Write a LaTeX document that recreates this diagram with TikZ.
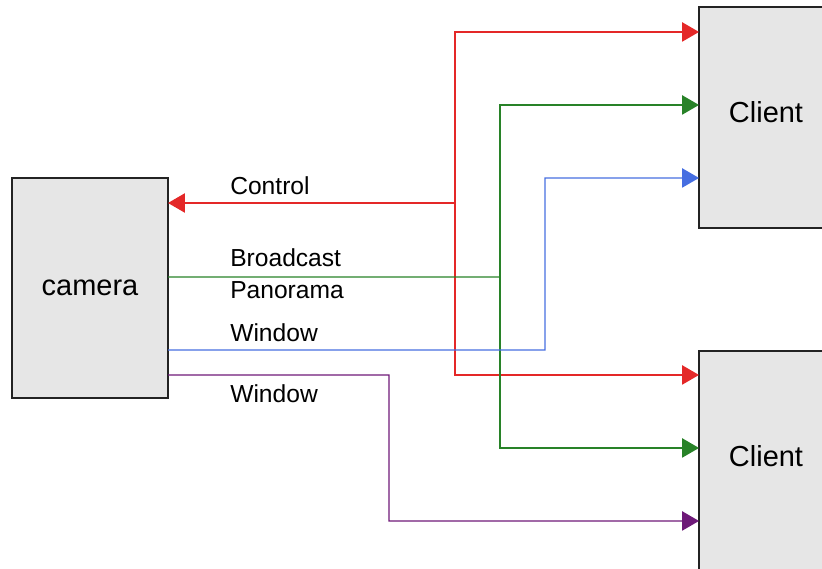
\documentclass[tikz,border=0pt]{standalone}
\usepackage{fontspec}
\setmainfont{Liberation Sans}
\usetikzlibrary{arrows.meta,calc}

\definecolor{boxgrey}{RGB}{230,230,230}
\definecolor{boxline}{RGB}{35,35,35}
\definecolor{ctrlred}{RGB}{228,40,40}
\definecolor{bcgreen}{RGB}{40,130,40}
\definecolor{winblue}{RGB}{70,110,225}
\definecolor{winpurple}{RGB}{110,25,120}

\begin{document}
\begin{tikzpicture}[x=0.025cm,y=-0.025cm,
    device/.style={draw=boxline,fill=boxgrey,line width=1.1pt,
      font=\fontsize{20.6}{24}\selectfont,inner sep=0pt,outer sep=0pt},
    client/.style={device,minimum width=3.35cm,minimum height=5.525cm,
      text depth=7.8pt},
    feed/.style={line width=0.9pt},
    tip/.style={-{Triangle[length=0.42cm,width=0.48cm]}},
    tag/.style={anchor=base west,inner sep=0pt,
      font=\fontsize{17.5}{20}\selectfont}]

  \clip (0,0) rectangle (822,569);

  % --- the camera and the two clients ---
  \node[device,minimum width=3.9cm,minimum height=5.5cm]
    (camera) at (90,288) {camera};
  \node[client] (client1) at (766,117.5) {Client};
  \node[client] (client2) at (766,461.5) {Client};

  % --- the split points of the feeds ---
  \coordinate (ctrlsplit) at (455,203);
  \coordinate (bcsplit)   at (500,277);
  \coordinate (winturn)   at (545,350);
  \coordinate (win2turn)  at (389,375);

  % --- Control: from both clients back to the camera ---
  \draw[feed,ctrlred,tip] (ctrlsplit) -- (ctrlsplit -| camera.east);
  \draw[feed,ctrlred,tip] (ctrlsplit) |- ($(client1.north west)+(0,25)$);
  \draw[feed,ctrlred,tip] (ctrlsplit) |- ($(client2.north west)+(0,24)$);

  % --- Broadcast Panorama: to both clients ---
  \draw[feed,bcgreen] ($(camera.north east)+(0,99)$) -- (bcsplit);
  \draw[feed,bcgreen,tip] (bcsplit) |- ($(client1.north west)+(0,98)$);
  \draw[feed,bcgreen,tip] (bcsplit) |- ($(client2.north west)+(0,97)$);

  % --- the two windows ---
  \draw[feed,winblue,tip] ($(camera.north east)+(0,172)$) -- (winturn)
    |- ($(client1.north west)+(0,171)$);
  \draw[feed,winpurple,tip] ($(camera.north east)+(0,197)$) -- (win2turn)
    |- ($(client2.north west)+(0,170)$);

  % --- lettering ---
  \node[tag] (lcontrol) at (230,195) {Control};
  \node[tag] (lbcast)   at (230,267) {Broadcast};
  \node[tag] (lpano)    at (230,299) {Panorama};
  \node[tag] (lwin)     at (230,342) {Window};
  \node[tag] (lwintwo)  at (230,403) {Window};
\end{tikzpicture}
\end{document}
